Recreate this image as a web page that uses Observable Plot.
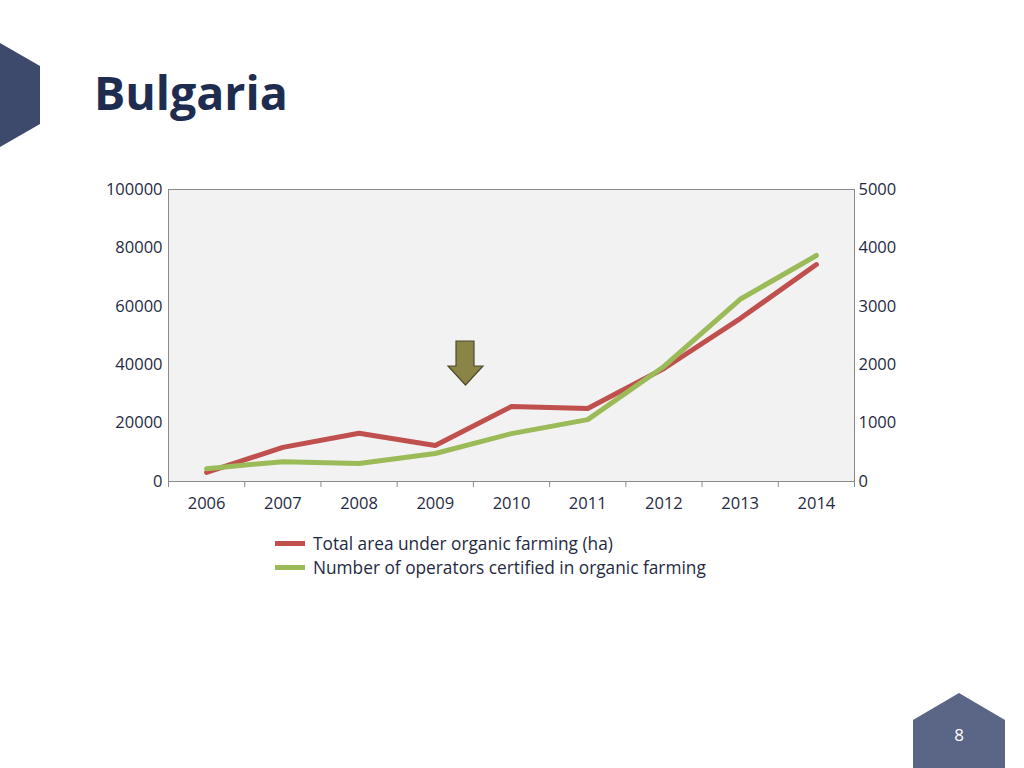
<!DOCTYPE html>
<html>
<head>
<meta charset="utf-8">
<script src="https://cdn.jsdelivr.net/npm/d3@7"></script>
<script src="https://cdn.jsdelivr.net/npm/@observablehq/plot@0.6"></script>
<style>
  html, body { margin: 0; padding: 0; background: #fff; }
  #page { position: relative; width: 1024px; height: 768px; overflow: hidden; font-family: "Open Sans", "Noto Sans", sans-serif; }
  #title { position: absolute; left: 94px; top: 69px; font-size: 46.5px; font-weight: 700; color: #1e2d4f; line-height: 1; }
  #chart { position: absolute; left: 0; top: 150px; }
  #legend { position: absolute; left: 275px; top: 531px; font-size: 17.3px; color: #1f2a44; }
  .li { display: flex; align-items: center; height: 24px; }
  .sw { width: 30px; height: 5px; margin-right: 8px; }
  #pagenum { position: absolute; left: 913px; top: 723px; width: 92px; text-align: center; color: #fff; font-size: 17px; }
  svg.deco { position: absolute; left: 0; top: 0; }
</style>
</head>
<body>
<div id="page">
  <svg class="deco" width="1024" height="768">
    <polygon points="0,43 40,66 40,124 0,147" fill="#3d4a6b"/>
    <polygon points="913,720 959,693 1005,720 1005,768 913,768" fill="#5b6585"/>
  </svg>
  <div id="title">Bulgaria</div>
  <div id="chart"></div>
  <svg class="deco" width="1024" height="768" style="pointer-events:none">
    <polygon points="456,341 474,341 474,366 483,366 465.5,385 448,366 456,366" fill="#8a8447" stroke="#4d4a2c" stroke-width="1.2"/>
  </svg>
  <div id="legend"></div>
  <div id="pagenum">8</div>
</div>
<script>
const years = [2006, 2007, 2008, 2009, 2010, 2011, 2012, 2013, 2014];
const areaHa = [3100, 11700, 16500, 12300, 25700, 25000, 38700, 55800, 74300];
const operators = [220, 340, 310, 480, 820, 1060, 1970, 3120, 3870];
const leftTicks = [0, 20000, 40000, 60000, 80000, 100000];
const rightTicks = [0, 1000, 2000, 3000, 4000, 5000];
const seriesNames = ["Total area under organic farming (ha)", "Number of operators certified in organic farming"];
const seriesColors = ["#c0504d", "#9bbb59"];

const ratio = 100000 / 5000;
const areaData = years.map((y, i) => ({year: y, v: areaHa[i]}));
const opData = years.map((y, i) => ({year: y, v: operators[i] * ratio}));
const boundaries = years.map(y => y - 0.5).concat([years[years.length - 1] + 0.5]);
const textColor = "#1f2a44";
const fs = 16.5;

const chart = Plot.plot({
  width: 1024,
  height: 370,
  marginLeft: 168,
  marginRight: 170,
  marginTop: 39,
  marginBottom: 39,
  style: {fontFamily: "'Open Sans', 'Noto Sans', sans-serif", fontSize: fs + "px", color: textColor, background: "transparent"},
  x: {type: "linear", domain: [years[0] - 0.5, years[years.length - 1] + 0.5], label: null},
  y: {domain: [0, 100000], label: null},
  marks: [
    Plot.frame({fill: "#f2f2f2", stroke: "none"}),
    Plot.axisX({ticks: years, tickFormat: d => String(d), tickSize: 0, tickPadding: 16, fontSize: fs, fill: textColor, label: null}),
    Plot.axisX({ticks: boundaries, tickFormat: () => "", tickSize: 6, stroke: "#8a8a8a", label: null}),
    Plot.axisY({anchor: "left", ticks: leftTicks, tickFormat: d => String(d), tickSize: 0, tickPadding: 6, fontSize: fs, fill: textColor, label: null}),
    Plot.axisY({anchor: "right", ticks: rightTicks.map(d => d * ratio), tickFormat: d => String(d / ratio), tickSize: 0, tickPadding: 4, fontSize: fs, fill: textColor, label: null}),
    Plot.frame({stroke: "#8a8a8a", strokeWidth: 1}),
    Plot.line(areaData, {x: "year", y: "v", stroke: seriesColors[0], strokeWidth: 5, strokeLinejoin: "round"}),
    Plot.line(opData, {x: "year", y: "v", stroke: seriesColors[1], strokeWidth: 5, strokeLinejoin: "round"})
  ]
});
document.getElementById("chart").appendChild(chart);

const legend = document.getElementById("legend");
seriesNames.forEach((n, i) => {
  const li = document.createElement("div");
  li.className = "li";
  const sw = document.createElement("div");
  sw.className = "sw";
  sw.style.background = seriesColors[i];
  const t = document.createElement("span");
  t.textContent = n;
  li.appendChild(sw); li.appendChild(t);
  legend.appendChild(li);
});
</script>
</body>
</html>
